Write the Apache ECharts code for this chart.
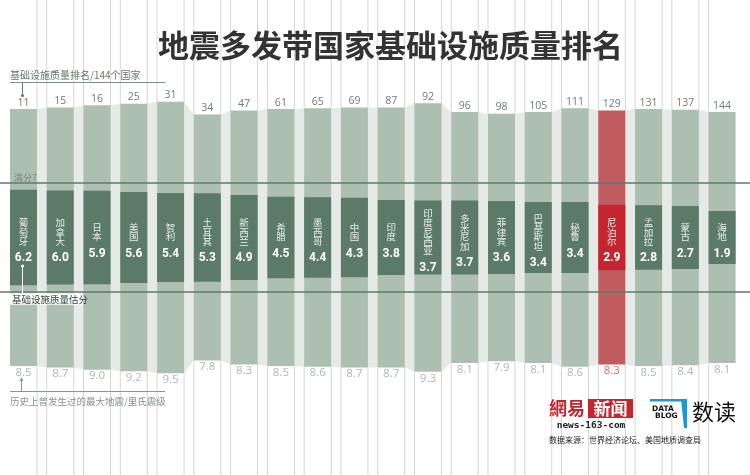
<!DOCTYPE html>
<html><head><meta charset="utf-8">
<script src="https://cdn.jsdelivr.net/npm/echarts@6/dist/echarts.min.js"></script>
<style>html,body{margin:0;padding:0;background:#fff}#c{width:750px;height:475px}</style>
</head><body><div id="c"></div>
<script>
// ---- data ----
const categories = ['葡萄牙','加拿大','日本','美国','智利','土耳其','新西兰','希腊','墨西哥','中国','印度','印度尼西亚','多米尼加','菲律宾','巴基斯坦','秘鲁','尼泊尔','孟加拉','蒙古','海地'];
const ranks = [11,15,16,25,31,34,47,61,65,69,87,92,96,98,105,111,129,131,137,144];
const scores = [6.2,6.0,5.9,5.6,5.4,5.3,4.9,4.5,4.4,4.3,3.8,3.7,3.7,3.6,3.4,3.4,2.9,2.8,2.7,1.9];
const magnitudes = [8.5,8.7,9.0,9.2,9.5,7.8,8.3,8.5,8.6,8.7,8.7,9.3,8.1,7.9,8.1,8.6,8.3,8.5,8.4,8.1];
const highlight = '尼泊尔';
const FULL_SCORE = 7;

// ---- style ----
const COL = {bar:'#adbfb2', barHi:'#c05b5f', inner:'#5b7a6a', innerHi:'#c3262e', gap:'#e5eae6',
  vline:'#d3d8d4', hline:'#5e7a6b', rank:'#6e7c73', mag:'#adb9b1', magHi:'#d27073'};
const BAR_RATIO = 27/36.77;
const FONT_NUM = '"Open Sans", "Noto Sans", sans-serif';
const FONT_CJK = '"Noto Sans CJK SC", sans-serif';
const hiIdx = categories.indexOf(highlight);
const LINE_PAD = 1.073;
const CHAR_PITCH = 9.3;
const SCORE_GAP = 12.5;
const LABEL_SHIFT = 7;

function txt(o){
  if (o.align) o.textAlign = o.align;
  if (o.verticalAlign) o.textVerticalAlign = o.verticalAlign;
  return o;
}

function renderOuter(params, api){
  const i = api.value(0), m = api.value(1), r = api.value(2);
  const w = api.size([1,0])[0]*BAR_RATIO;
  const top = api.coord([i, Math.sqrt(m)]);
  const bot = api.coord([i, -Math.sqrt(m)]);
  const hi = i === hiIdx;
  return {type:'group', children:[
    {type:'rect', shape:{x:top[0]-w/2, y:top[1], width:w, height:bot[1]-top[1]}, style:{fill: hi?COL.barHi:COL.bar}},
    {type:'text', style:txt({text:String(r), x:top[0], y:top[1]-1, align:'center', verticalAlign:'bottom', font:'10.5px '+FONT_NUM, fill:COL.rank})},
    {type:'text', style:txt({text:m.toFixed(1), x:top[0], y:bot[1]+0.5, align:'center', verticalAlign:'top', font:'11.5px '+FONT_NUM, fill: hi?COL.magHi:COL.mag})}
  ]};
}

function renderInner(params, api){
  const i = api.value(0), s = api.value(1);
  const w = api.size([1,0])[0]*BAR_RATIO;
  const top = api.coord([i, Math.sqrt(s)]);
  const bot = api.coord([i, -Math.sqrt(s)]);
  const mid = api.coord([i, 0]);
  const hi = i === hiIdx;
  const chars = categories[i].split('');
  const blockH = chars.length*CHAR_PITCH + 2*SCORE_GAP;
  const blockTop = mid[1] + LABEL_SHIFT - blockH/2;
  const children = [
    {type:'rect', shape:{x:top[0]-w/2, y:top[1], width:w, height:bot[1]-top[1]}, style:{fill: hi?COL.innerHi:COL.inner}}
  ];
  chars.forEach((ch, k) => {
    children.push({type:'text', style:txt({text:ch, x:mid[0], y:blockTop + CHAR_PITCH*(k+0.5), align:'center', verticalAlign:'middle', font:'9.5px '+FONT_CJK, fill:'#e6eee8'})});
  });
  children.push({type:'text', style:txt({text:s.toFixed(1), x:mid[0], y:blockTop + chars.length*CHAR_PITCH + SCORE_GAP, align:'center', verticalAlign:'middle', font:'bold 12px Roboto, sans-serif', fill:'#ffffff'})});
  return {type:'group', children};
}

function renderGap(params, api){
  const i = api.value(0), m1 = api.value(1), m2 = api.value(2);
  const w = api.size([1,0])[0]*BAR_RATIO;
  const a1 = api.coord([i, Math.sqrt(m1)]), b1 = api.coord([i, -Math.sqrt(m1)]);
  const a2 = api.coord([i+1, Math.sqrt(m2)]), b2 = api.coord([i+1, -Math.sqrt(m2)]);
  return {type:'polygon', shape:{points:[[a1[0]+w/2, a1[1]],[a2[0]-w/2, a2[1]],[b2[0]-w/2, b2[1]],[b1[0]+w/2, b1[1]]]}, style:{fill:COL.gap}};
}

function renderVline(params, api){
  const i = api.value(0);
  const w = api.size([1,0])[0]*BAR_RATIO;
  const c = api.coord([i, 0]);
  const H = api.getHeight();
  const ch = [];
  if (i > 0) ch.push({type:'line', shape:{x1:c[0]-w/2, y1:0, x2:c[0]-w/2, y2:H}, style:{stroke:COL.vline, lineWidth:1}});
  if (i < categories.length-1) ch.push({type:'line', shape:{x1:c[0]+w/2, y1:0, x2:c[0]+w/2, y2:H}, style:{stroke:COL.vline, lineWidth:1}});
  return {type:'group', children:ch};
}

function renderHline(params, api){
  const v = api.value(1);
  const p = api.coord([0, v]);
  return {type:'line', shape:{x1:0, y1:p[1], x2:api.getWidth(), y2:p[1]}, style:{stroke:COL.hline, lineWidth:1.5}};
}

const idx = categories.map((c,i)=>i);
const outerData = idx.map(i => [i, magnitudes[i], ranks[i]]);
const innerData = idx.map(i => [i, scores[i]]);
const gapData = idx.slice(0,-1).map(i => [i, magnitudes[i], magnitudes[i+1]]);
const lineLevel = Math.sqrt(FULL_SCORE)*LINE_PAD;

const chart = echarts.init(document.getElementById('c'), null, {renderer:'canvas'});
const option = {
  animation:false,
  backgroundColor:'#ffffff',
  grid:{left:5.1, right:9.5, top:0, bottom:0},
  xAxis:{type:'category', data:categories, show:false},
  yAxis:[
    {type:'value', min:-5.39, max:5.39, show:false},
    {type:'value', min:-12.37, max:12.37, show:false}
  ],
  series:[
    {type:'custom', z:1, yAxisIndex:0, data:idx.map(i=>[i]), renderItem:renderVline, silent:true},
    {type:'custom', z:2, yAxisIndex:0, data:gapData, renderItem:renderGap, silent:true},
    {type:'custom', z:3, yAxisIndex:0, data:outerData, renderItem:renderOuter, silent:true},
    {type:'custom', z:4, yAxisIndex:1, data:innerData, renderItem:renderInner, silent:true},
    {type:'custom', z:5, yAxisIndex:1, data:[[0, lineLevel],[0, -lineLevel]], renderItem:renderHline, silent:true}
  ],
  graphic:[
    {type:'text', z:100, style:txt({text:'地震多发带国家基础设施质量排名', x:390.5, y:45, align:'center', verticalAlign:'middle', font:'bold 31px '+FONT_CJK, fill:'#333333'})},
    {type:'text', z:100, style:txt({text:'基础设施质量排名/144个国家', x:10, y:75, align:'left', verticalAlign:'middle', font:'10px '+FONT_CJK, fill:'#65766b'})},
    {type:'line', z:100, shape:{x1:10, y1:82.5, x2:165, y2:82.5}, style:{stroke:'#7f8f85', lineWidth:1}},
    {type:'line', z:100, shape:{x1:22.5, y1:82.5, x2:22.5, y2:95}, style:{stroke:'#6a7a70', lineWidth:1}},
    {type:'circle', z:100, shape:{cx:22.5, cy:95.5, r:1.6}, style:{fill:'#6a7a70'}},
    {type:'text', z:100, style:txt({text:'满分7', x:14, y:178, align:'left', verticalAlign:'middle', font:'9px '+FONT_CJK, fill:'#768a7d'})},
    {type:'line', z:100, shape:{x1:22.5, y1:266, x2:22.5, y2:293}, style:{stroke:'#ffffff', lineWidth:1}},
    {type:'circle', z:100, shape:{cx:22.5, cy:266, r:1.6}, style:{fill:'#ffffff'}},
    {type:'rect', z:100, shape:{x:10, y:293.2, width:73, height:11.5}, style:{fill:'#ffffff'}},
    {type:'text', z:101, style:txt({text:'基础设施质量估分', x:12, y:299, align:'left', verticalAlign:'middle', font:'9.5px '+FONT_CJK, fill:'#2f3f35'})},
    {type:'line', z:100, shape:{x1:10, y1:391.5, x2:165, y2:391.5}, style:{stroke:'#8a968e', lineWidth:1}},
    {type:'line', z:100, shape:{x1:21.5, y1:391.5, x2:21.5, y2:379}, style:{stroke:'#8a968e', lineWidth:1}},
    {type:'polygon', z:100, shape:{points:[[19.5,381],[23.5,381],[21.5,377.5]]}, style:{fill:'#8a968e'}},
    {type:'text', z:100, style:txt({text:'历史上曾发生过的最大地震/里氏震级', x:10, y:401, align:'left', verticalAlign:'middle', font:'9.5px '+FONT_CJK, fill:'#86938a'})},
    {type:'text', z:100, style:txt({text:'網易', x:549, y:408.5, align:'left', verticalAlign:'middle', font:'bold 18px '+FONT_CJK, fill:'#c4262e'})},
    {type:'rect', z:100, shape:{x:588, y:399, width:45, height:19}, style:{fill:'#c4262e'}},
    {type:'text', z:101, style:txt({text:'新闻', x:610.5, y:408.5, align:'center', verticalAlign:'middle', font:'bold 17px '+FONT_CJK, fill:'#ffffff'})},
    {type:'text', z:100, style:txt({text:'news-163-com', x:591, y:425.5, align:'center', verticalAlign:'middle', font:'bold 9.5px "DejaVu Sans Mono", monospace', fill:'#222222'})},
    {type:'rect', z:100, shape:{x:650, y:399, width:37, height:2.5}, style:{fill:'#1c96d4'}},
    {type:'polygon', z:100, shape:{points:[[681,399],[687,399],[687,428],[684,428]]}, style:{fill:'#1c96d4'}},
    {type:'text', z:100, style:txt({text:'DATA', x:652, y:409, align:'left', verticalAlign:'middle', font:'bold 7.5px "DejaVu Sans", sans-serif', fill:'#111111'})},
    {type:'text', z:100, style:txt({text:'BLOG', x:655, y:416.5, align:'left', verticalAlign:'middle', font:'bold 7.5px "DejaVu Sans", sans-serif', fill:'#111111'})},
    {type:'text', z:100, style:txt({text:'数读', x:692, y:412, align:'left', verticalAlign:'middle', font:'22px '+FONT_CJK, fill:'#111111'})},
    {type:'text', z:100, style:txt({text:'数据来源：世界经济论坛、美国地质调查局', x:549, y:440, align:'left', verticalAlign:'middle', font:'8px '+FONT_CJK, fill:'#222222'})}
  ]
};
chart.setOption(option);
</script>
</body></html>
